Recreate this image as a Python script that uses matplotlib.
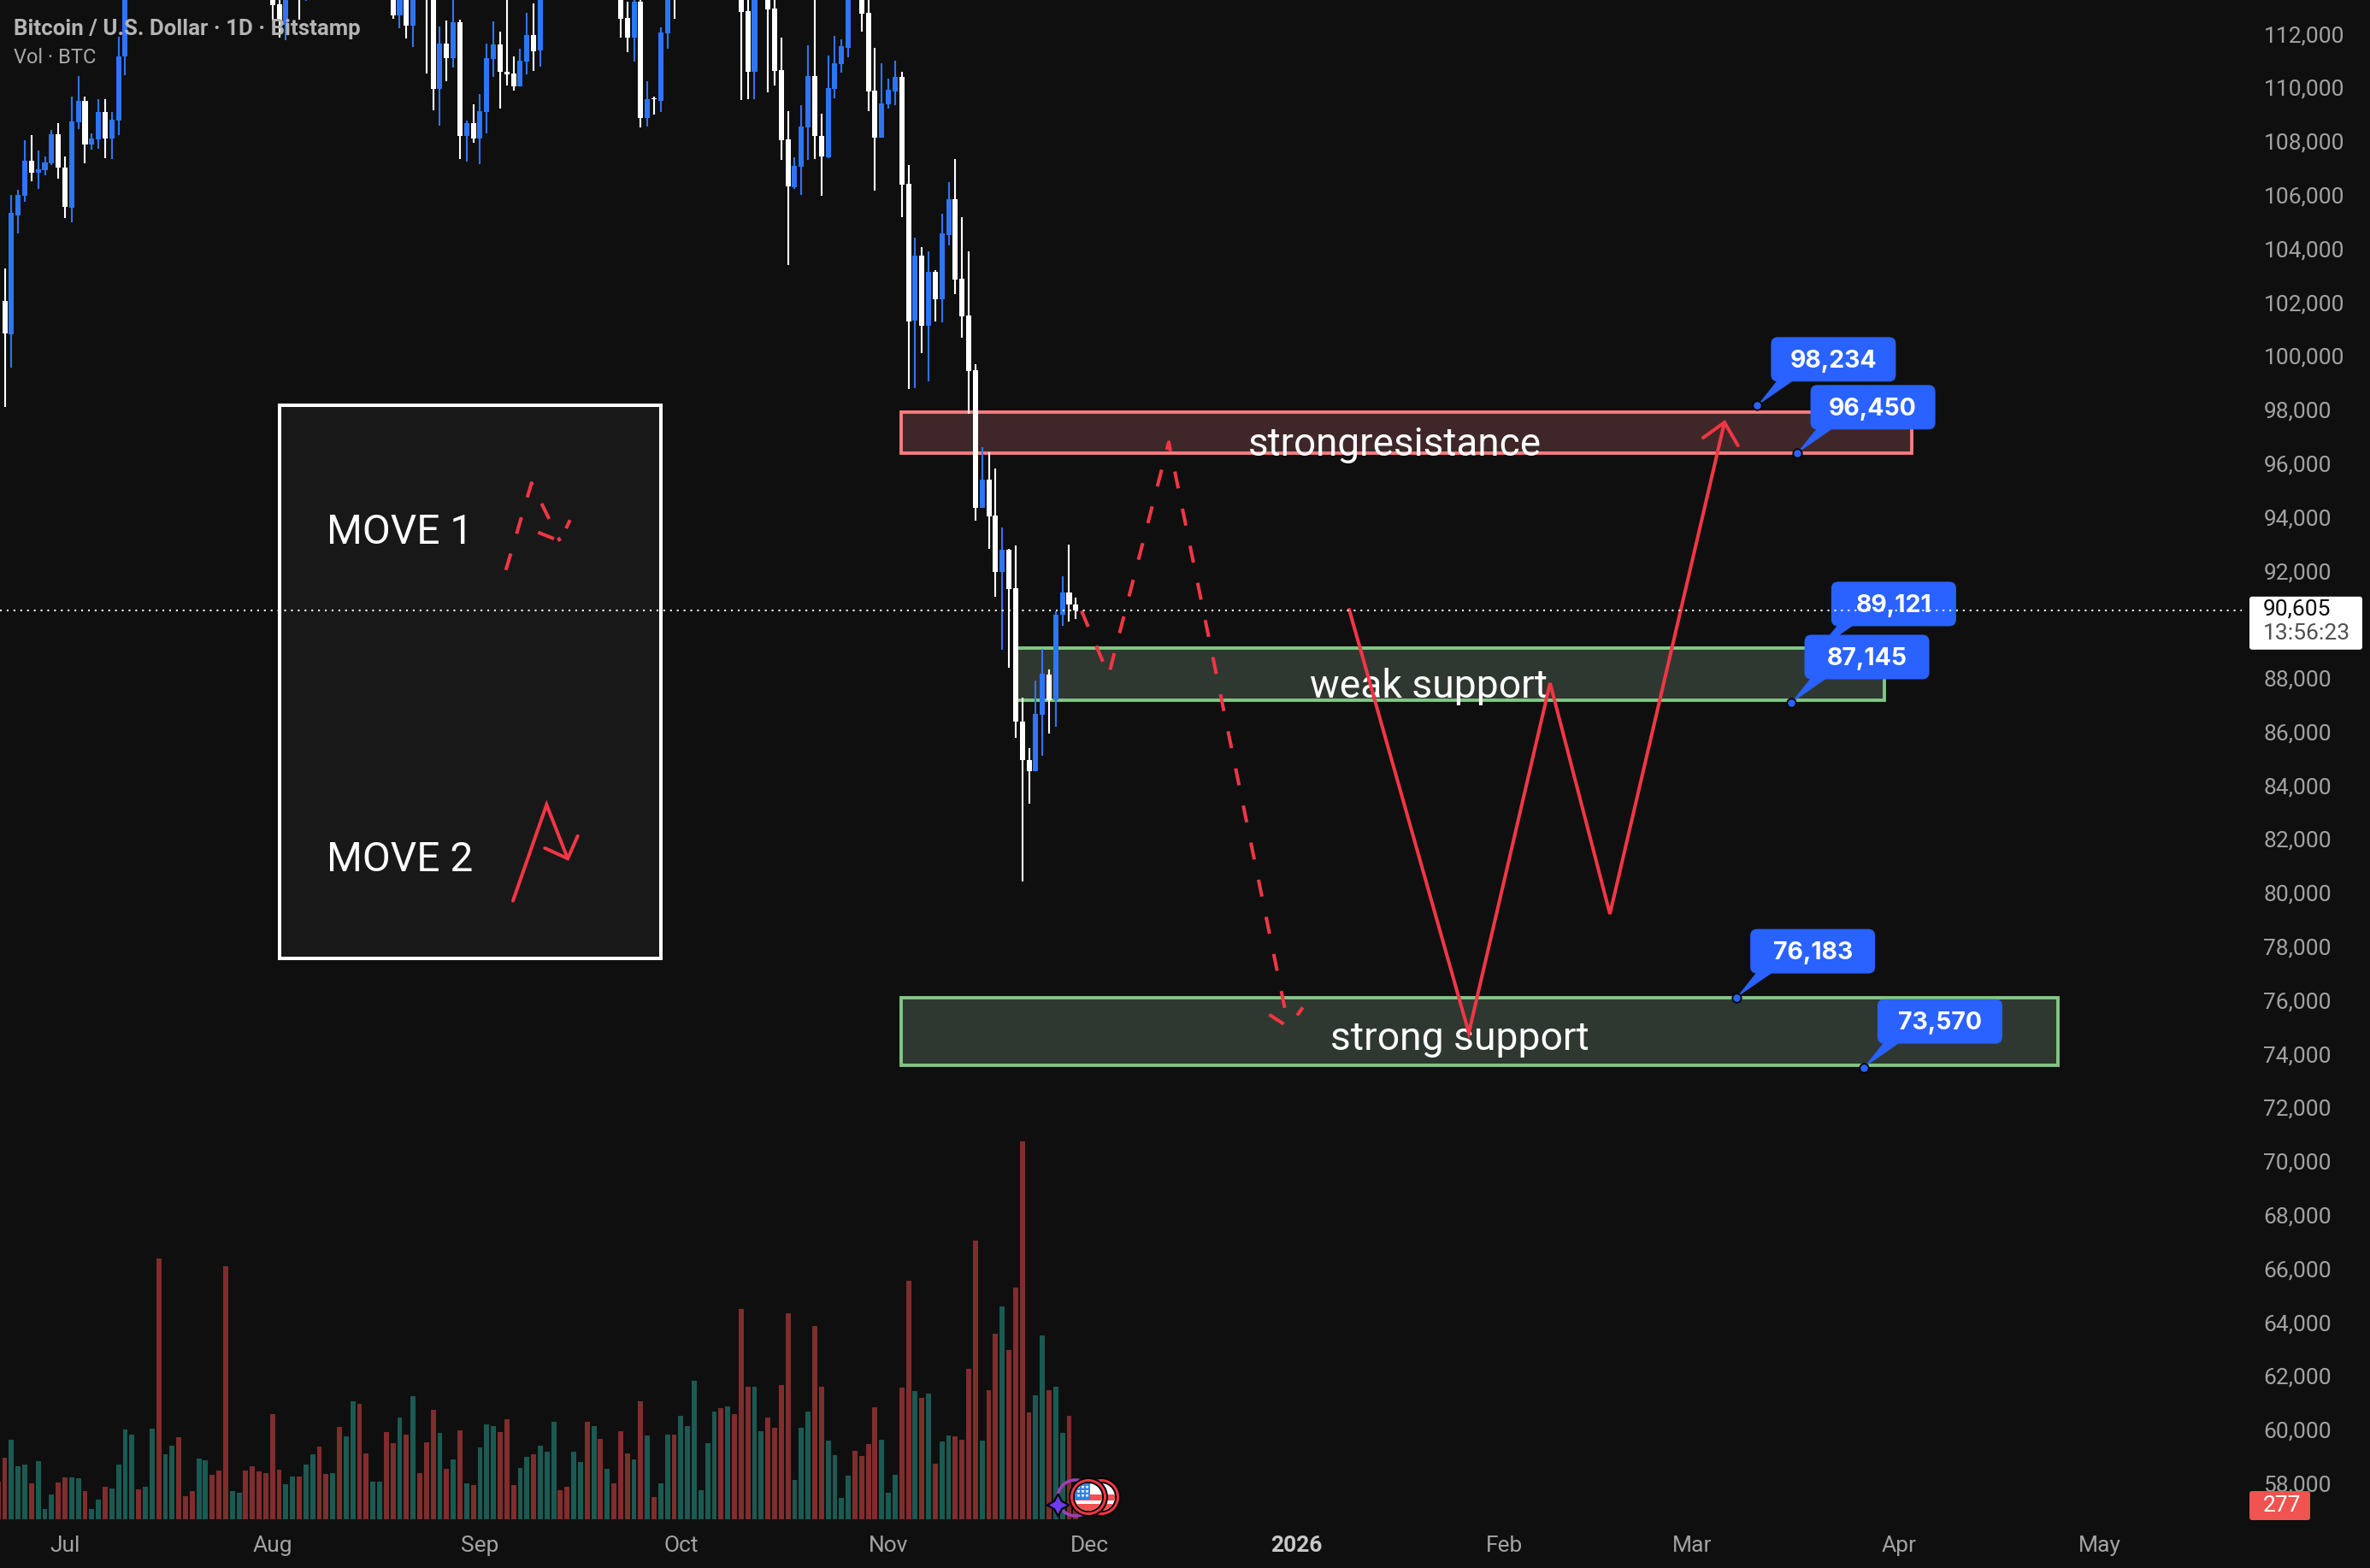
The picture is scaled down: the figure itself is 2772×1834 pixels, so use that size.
import matplotlib
matplotlib.use("Agg")
import matplotlib.pyplot as plt
import matplotlib.patches as patches
from matplotlib.transforms import IdentityTransform
import numpy as np

plt.rcParams['font.family'] = ['Roboto', 'DejaVu Sans']

# daily candles, day 0 = 1 Jul 2025 (days fully above the price window are left out)
candle_day = [-9,-8,-7,-6,-5,-4,-3,-2,-1,0,1,2,3,4,5,6,7,8,9,
    31,32,33,35,36,49,50,51,52,54,55,56,57,58,59,60,61,62,63,64,65,66,67,68,69,70,71,
    83,84,85,86,87,88,89,90,91,101,102,103,105,106,107,108,109,110,111,112,113,114,115,116,117,
    119,120,121,122,123,124,125,126,127,128,129,130,131,132,133,134,135,136,137,138,139,140,
    141,142,143,144,145,146,147,148,149,150,151]
candle_open = [102130,100900,105320,106050,107350,106910,107000,107260,108340,107100,105600,108790,109580,107960,108150,109170,108180,108850,111240,
    114000,113180,112420,114500,114000,114600,112770,114300,112380,114900,114400,110030,111720,111170,112510,108280,108750,108180,109170,111140,111680,110660,110600,110120,111050,112030,111460,
    114000,112670,111940,113280,108940,109680,109580,112100,114000,114200,112930,110660,114000,113020,110730,108150,106370,107130,108590,110500,108280,107480,110030,110950,111560,
    114300,112860,109960,108210,109450,109930,110470,106490,101400,103820,101200,103210,102190,104580,105920,102960,101590,99550,94410,95480,94130,92020,
    92860,91420,86450,85010,84600,86710,88210,87270,90430,91270,90830]
candle_high = [103340,106080,106270,108120,108310,107730,107510,108500,108750,107510,109740,110500,109740,108370,109650,109650,109170,111970,113980,
    114600,113550,114500,115000,115000,115200,115000,114700,114900,115500,115000,112350,112580,113450,112610,108850,109450,109840,111720,112540,112160,113450,111240,111520,112860,113210,114300,
    114500,113280,114000,113390,110310,109740,112320,114200,114500,114800,113390,114500,114500,113400,111940,109200,107480,109420,111650,113400,109100,111270,112000,111880,114300,
    114800,113400,111560,110980,110410,111080,110660,107190,104490,104140,103980,103280,105380,106560,107420,105250,103980,99780,96680,96490,95890,93690,
    92900,93010,87350,85460,88000,89160,88400,90580,91870,93050,91070]
candle_low = [98180,99640,104660,105820,106590,106300,106810,107190,106680,105220,105060,108530,107260,107770,107800,107450,107420,108310,110540,
    112580,111940,111840,112610,113310,112640,112290,111910,111590,110600,109230,108660,110310,110820,107420,107320,108020,107220,108370,110470,109290,110150,109960,110120,110570,110700,110860,
    111940,111400,111050,108590,108630,109070,109170,111520,112640,109610,109650,109650,109900,110150,107380,103470,106300,106080,107380,107420,106050,107450,109680,110630,111210,
    112160,109200,106240,108210,109290,109420,105250,98850,98880,100190,99130,101360,101330,104200,102380,100760,97910,93930,94410,92900,91110,89120,
    88450,85850,80490,83390,84600,85200,86020,86280,90040,90190,90280]
candle_close = [100920,105410,106080,107350,106910,107030,107290,108340,107110,105630,108820,109580,107960,108180,109170,108180,108880,111240,113550,
    113150,112580,114000,114000,114800,112770,114600,112380,114300,114000,110030,111720,111170,112510,108280,108750,108180,109200,111170,111680,110660,110570,110120,111080,112030,111430,113800,
    112640,111940,113280,108940,109650,109650,112130,113800,113600,112890,110660,114000,112990,110700,108120,106400,107160,108630,110500,108280,107510,110060,110980,111620,113800,
    112830,109930,108210,109490,110000,110470,106460,101360,103820,101200,103210,102190,104640,105920,102920,101550,99520,94410,95480,94100,92020,92860,
    91400,86450,85010,84600,86750,88250,87270,90430,91270,90830,90605]

# volume in BTC per day, days -10 to 151 in order, r = down day, g = up day
volume_first_day = -10
volume = [884,1435,1870,1231,1272,836,1353,238,578,857,
    972,972,952,653,238,456,755,714,1272,2094,
    1972,694,755,2115,6106,1530,1714,1911,537,653,
    1414,1374,1034,1136,5923,653,612,1136,1231,1115,
    1074,2455,1156,816,993,993,1272,1516,1693,1054,
    1074,2169,1931,2754,2693,1550,877,877,2033,1775,
    2373,1972,2890,1074,1795,2570,2013,1176,1394,2074,
    836,796,1673,2230,2190,2033,2332,796,1210,1455,
    1516,1714,1571,2271,673,755,1571,1333,2271,2190,
    1890,1176,836,2054,1550,1394,2754,1952,517,836,
    1972,1972,2414,2190,3250,673,1775,2530,2591,2632,
    2455,4930,3094,3108,2054,2373,2135,3148,4828,911,
    2135,2530,4529,3108,1836,1496,496,1013,1591,1476,
    1754,2611,1870,612,1034,3074,5590,2992,2849,2931,
    1292,1816,1952,1931,1870,3529,6528,1850,3012,4345,
    4971,3951,5426,8840,2509,2910,4291,3012,3108,2013,
    2414,277]
volume_side = ("rrgggrgggr" "rggrggrggg" "grggrggrrr" "ggrrrggrrr" "rrrggrggrr"
    "grggrrggrr" "grgrrrgrgr" "grgggrrrgg" "rgggrrggrg"
    "rgrrrgrgrg" "grggggggrg" "rrrggrrrrg" "ggrrggggrr" "rrgggrrgrg"
    "rggrrrrgrr" "grrrrggrgg" "rr")

last_price = 90605
last_volume = volume[-1]
countdown = "13:56:23"

# 90,000 sits under the last price tag so it gets no label
price_ticks = [p for p in range(58000, 114000, 2000) if p != 90000]
month_ticks = [0, 31, 62, 92, 123, 153, 184, 215, 243, 274, 304]
month_labels = ["Jul", "Aug", "Sep", "Oct", "Nov", "Dec", "2026", "Feb", "Mar", "Apr", "May"]

# zones: left day, right day, low, high
resist_zone = [124.85, 275.9, 96450, 97990]
weak_zone = [142, 271.8, 87270, 89210]
strong_zone = [124.9, 297.7, 73660, 76183]

# projected paths
move1_days = [151.85, 155.9, 164.88, 182.8]
move1_prices = [90584, 88180, 96870, 75070]
move1_head_days = [179.9, 182.8, 184.9]
move1_head_prices = [75544, 75070, 75811]
move2_days = [191.83, 209.7, 221.84, 230.78, 247.89]
move2_prices = [90631, 74865, 87892, 79292, 97606]
move2_head_days = [244.7, 247.89, 249.9]
move2_head_prices = [97033, 97606, 96746]

# legend panel and its little sketches
panel = [32.06, 89.0, 77636, 98243]
key1_days = [65.86, 69.69, 73.95]
key1_prices = [92103, 95348, 93179]
key1_head_days = [70.66, 73.95, 75.44]
key1_head_prices = [93510, 93179, 93966]
key2_days = [66.92, 71.94, 75.10]
key2_prices = [79783, 83360, 81356]
key2_head_days = [71.69, 75.10, 76.59]
key2_head_prices = [81745, 81356, 82197]

# price callouts
callout_days = [252.8, 258.7, 261.8, 257.8, 249.7, 268.7]
callout_prices = [98234, 96450, 89121, 87145, 76183, 73570]

BG = "#0f0f0f"
RED = "#f23645"
CANDLE_BLUE = "#2e75f5"
CALL_BLUE = "#2962ff"
TICK = "#a3a3a3"

W, H = 2772, 1834
PANE_R, PANE_B = 2630, 1777

fig = plt.figure(figsize=(W / 100, H / 100), dpi=100, facecolor=BG)
rect = [0, 1 - PANE_B / H, PANE_R / W, PANE_B / H]

vol_ax = fig.add_axes(rect, zorder=1, facecolor=BG)
ax = fig.add_axes(rect, zorder=2, facecolor="none")
top = fig.add_axes([0, 0, 1, 1], zorder=3, facecolor="none")

xlim = (-76 / 7.83, (PANE_R - 76) / 7.83)
ax.set_xlim(xlim)
ax.set_ylim(56743, 113340)
vol_ax.set_xlim(xlim)
vol_ax.set_ylim(0, 35540)
vol_ax.axis("off")
for s in ax.spines.values():
    s.set_visible(False)

ax.yaxis.tick_right()
ax.set_yticks(price_ticks)
ax.set_yticklabels([f"{p:,}" for p in price_ticks], va="center")
ax.set_xticks(month_ticks)
ax.set_xticklabels(month_labels)
ax.tick_params(axis="y", length=0, pad=12.5, labelsize=19, labelcolor=TICK)
ax.tick_params(axis="x", length=0, pad=14, labelsize=19, labelcolor=TICK)
ax.get_xticklabels()[6].set_fontweight("bold")
ax.get_xticklabels()[6].set_color("#c8c8c8")

# volume
vol_days = np.arange(len(volume)) + volume_first_day
vol_colors = ["#7f2d2d" if c == "r" else "#1b5a52" for c in volume_side]
vol_ax.bar(vol_days, volume, width=0.75, color=vol_colors, linewidth=0)

# zones
def zone(z, edge, face):
    ax.add_patch(patches.Rectangle((z[0], z[2]), z[1] - z[0], z[3] - z[2], facecolor=face,
                                   edgecolor=edge, linewidth=2.8, joinstyle="miter", zorder=1))

zone(resist_zone, "#f77c80", "#3f2729")
zone(weak_zone, "#81c784", "#2f3830")
zone(strong_zone, "#81c784", "#2f3830")

ax.add_patch(patches.Rectangle((panel[0], panel[2]), panel[1] - panel[0], panel[3] - panel[2],
                               facecolor="#181818", edgecolor="white", linewidth=2.9,
                               joinstyle="miter", zorder=1))

# candles
days = np.array(candle_day)
o = np.array(candle_open)
c = np.array(candle_close)
cols = np.where(c >= o, CANDLE_BLUE, "#ffffff")
ax.vlines(days, candle_low, candle_high, colors=cols, linewidth=1.5, zorder=3)
ax.bar(days, np.abs(c - o), bottom=np.minimum(o, c), width=0.77, color=cols, linewidth=0, zorder=3)

# zone and legend captions
cap = dict(color="white", va="baseline", zorder=4)
ax.text(198.7, 96374, "strongresistance", ha="center", fontsize=33, **cap)
ax.text(203.7, 87350, "weak support", ha="center", fontsize=33.3, **cap)
ax.text(208.3, 74238, "strong support", ha="center", fontsize=33.3, **cap)
ax.text(39.1, 93083, "MOVE 1", ha="left", fontsize=34.5, **cap)
ax.text(39.1, 80885, "MOVE 2", ha="left", fontsize=34.5, **cap)

# projected moves
dash = dict(color=RED, linewidth=2.9, linestyle=(0, (5, 6)), dash_capstyle="butt", zorder=5)
solid = dict(color=RED, linewidth=2.9, solid_capstyle="round", solid_joinstyle="miter", zorder=5)
ax.plot(move1_days, move1_prices, **dash)
ax.plot(move1_head_days, move1_head_prices, **dash)
ax.plot(move2_days, move2_prices, **solid)
ax.plot(move2_head_days, move2_head_prices, **solid)
ax.plot(key1_days, key1_prices, **dash)
ax.plot(key1_head_days, key1_head_prices, **dash)
ax.plot(key2_days, key2_prices, **solid)
ax.plot(key2_head_days, key2_head_prices, **solid)

# callouts, bubble sits up and right of the anchored point
for d, p in zip(callout_days, callout_prices):
    px, py = ax.transData.transform((d, p))
    ax.add_patch(patches.Polygon([(px, py), (px + 23, py + 29), (px + 42, py + 29)], closed=True,
                                 facecolor=CALL_BLUE, edgecolor="none",
                                 transform=IdentityTransform(), zorder=6))
    ax.add_patch(patches.FancyBboxPatch((px + 16, py + 28), 146, 52,
                                        boxstyle="round,pad=0,rounding_size=8",
                                        facecolor=CALL_BLUE, edgecolor="none",
                                        transform=IdentityTransform(), zorder=6))
    ax.plot([d], [p], "o", ms=7.5, mfc=CALL_BLUE, mec="#050505", mew=1.3, zorder=6)
    ax.text(px + 89, py + 52, f"{p:,}", color="white", fontsize=20.5, fontweight="bold",
            family=["Inter", "DejaVu Sans"], ha="center", va="center",
            transform=IdentityTransform(), zorder=6)

# last price line
ax.axhline(last_price, color="white", linewidth=1.5, linestyle=(0, (1, 2.8)), xmax=2622 / PANE_R, zorder=7)

# overlay in pixel units for the header, price tags and event icons
top.set_xlim(0, W)
top.set_ylim(H, 0)
top.axis("off")

top.text(16, 33.5, "Bitcoin / U.S. Dollar · 1D · Bitstamp", color="#b4b4b4", fontsize=18.6, fontweight="bold", va="center")
top.text(16, 67.5, "Vol · BTC", color="#a8a8a8", fontsize=17, va="center")

price_y = (113340 - last_price) / 31.85
top.add_patch(patches.FancyBboxPatch((2631, price_y - 16), 132, 62, boxstyle="round,pad=0,rounding_size=3",
                                     facecolor="white", edgecolor="none"))
top.text(2647, price_y - 1, f"{last_price:,}", color="#0a0a0a", fontsize=19, va="center")
top.text(2647, price_y + 27, countdown, color="#505050", fontsize=19, va="center")

top.add_patch(patches.FancyBboxPatch((2631, 1744), 71, 34, boxstyle="round,pad=0,rounding_size=3",
                                     facecolor="#f05350", edgecolor="none"))
top.text(2647, 1761, f"{last_volume}", color="white", fontsize=19, va="center")

# event icons under the last bars
def flag(cx, cy):
    top.add_patch(patches.Circle((cx, cy), 23, facecolor="#050505", edgecolor="none"))
    top.add_patch(patches.Circle((cx, cy), 21, facecolor=RED, edgecolor="none"))
    top.add_patch(patches.Circle((cx, cy), 18, facecolor="#050505", edgecolor="none"))
    clip = patches.Circle((cx, cy), 16, transform=top.transData)
    stripes = [
        patches.Rectangle((cx - 17, cy - 17), 34, 34, facecolor="white", edgecolor="none"),
        patches.Rectangle((cx - 17, cy - 3), 34, 7, facecolor="#f05350", edgecolor="none"),
        patches.Rectangle((cx - 17, cy + 8), 34, 9, facecolor="#f05350", edgecolor="none"),
        patches.Rectangle((cx - 17, cy - 17), 19, 20, facecolor="#2f7fe8", edgecolor="none"),
    ]
    for s in stripes:
        top.add_patch(s)
        s.set_clip_path(clip)
    xs, ys = np.meshgrid([cx - 12, cx - 7, cx - 2], [cy - 12, cy - 7, cy - 2])
    st = top.scatter(xs.ravel(), ys.ravel(), s=10, marker="*", color="white", linewidths=0)
    st.set_clip_path(clip)

flag(1288, 1751)
top.add_patch(patches.Circle((1258, 1752), 21, facecolor="none", edgecolor="#9c3fb8", linewidth=2.6))
top.scatter([1237], [1760], s=340, marker=(4, 1, 0), color="#6d3cf0", edgecolor="#050505", linewidths=1.6)
flag(1273, 1751)

fig.savefig("out.png", dpi=100, facecolor=BG)
